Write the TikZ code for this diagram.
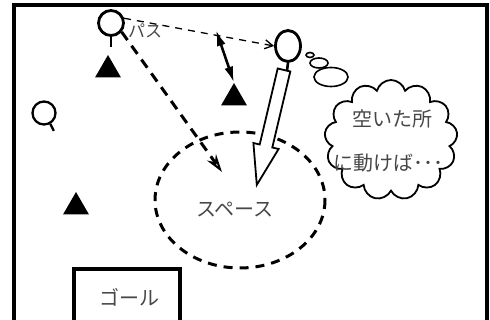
\documentclass[tikz,border=0pt]{standalone}
\usepackage{fontspec}
\newfontfamily\jp{Noto Sans CJK JP}
\usetikzlibrary{shapes.symbols,shapes.geometric,arrows.meta,calc}
\begin{document}
\begin{tikzpicture}[x=1pt,y=-1pt,
  frameline/.style={line width=3.4pt},
  player/.style={circle,draw,line width=2.8pt,minimum size=25pt,inner sep=0pt},
  playeroval/.style={ellipse,draw,line width=2.8pt,minimum width=25pt,minimum height=31pt,inner sep=0pt},
  qplayer/.style={circle,draw,line width=2.3pt,minimum size=23pt,inner sep=0pt},
  stem/.style={line width=2.6pt},
  enemy/.style={regular polygon,regular polygon sides=3,fill=black,minimum size=30pt,inner sep=0pt},
  jptext/.style={text=black!72,inner sep=0pt},
  passline/.style={line width=1.3pt,dash pattern=on 7pt off 6pt,-{Straight Barb[length=8pt,width=9pt,line width=1.3pt]}},
  runline/.style={line width=3pt,dash pattern=on 10pt off 7pt,-{Stealth[length=18pt,width=11pt,open,line width=2pt]}},
  dblarrow/.style={line width=2.6pt,{Latex[length=16pt,width=9pt]}-{Latex[length=16pt,width=9pt]}},
  bubble/.style={ellipse,draw,line width=1.6pt,inner sep=0pt},
  spacezone/.style={line width=3pt,dash pattern=on 9pt off 7pt},
  hollow/.style={line width=1.8pt,fill=white,line join=miter}
]
\useasboundingbox (0,0) rectangle (490,320);
% field frame
\draw[frameline] (14,322) -- (14,5) -- (487,5) -- (487,322);
% goal
\draw[frameline] (74,322) -- (74,269) -- (180,269) -- (180,322);
\node[jptext,font=\jp\fontsize{20}{24}\selectfont] (goal) at (129,297) {ゴール};
% space zone
\draw[spacezone] (240,200) ellipse [x radius=85, y radius=68];
\node[jptext,font=\jp\fontsize{20}{24}\selectfont] (space) at (235,210) {スペース};
% players
\node[player] (p1) at (111,23) {};
\draw[stem] (p1.south) -- ++(0,10);
\node[playeroval] (p2) at (288,46) {};
\draw[stem] (p2.south) -- ++(-1,8) coordinate (p2foot);
\node[qplayer] (q) at (44,113) {};
\draw[stem,line width=2.3pt] (q.-60) -- ++(3.5,7);
% enemies
\node[enemy] (t1) at (108,70) {};
\node[enemy] (t2) at (234,98) {};
\node[enemy] (t3) at (76,207) {};
% pass
\draw[passline] (p1.20) -- (p2.west);
\node[jptext,font=\jp\fontsize{17}{20}\selectfont] (pass) at (145,31) {パス};
% run of the first player
\coordinate (runend) at (222,172);
\draw[runline] (p1.-40) -- (runend);
% double arrow
\coordinate (dtop) at (216,30);
\draw[dblarrow] (dtop) -- (t2.north);
% hollow arrow of the second player
\draw[hollow] (277.7,68.5) -- (259.7,144.5) -- (253.4,143) -- (256.8,184.9) -- (278.6,149) -- (272.3,147.5) -- (290.3,71.5) -- cycle;
% thought bubbles
\node[bubble,minimum width=8pt,minimum height=5pt] (b1) at (310,55) {};
\node[bubble,minimum width=18pt,minimum height=10pt] (b2) at (319,63) {};
\node[bubble,minimum width=34pt,minimum height=19pt] (b3) at (331,77) {};
\node[cloud,draw,line width=1.8pt,cloud puffs=13,aspect=1.1,minimum width=133pt,minimum height=120pt,fill=white] (cloud) at (391,140) {};
\node[jptext,font=\jp\fontsize{20}{24}\selectfont] (think1) at (392,119) {空いた所};
\node[jptext,font=\jp\fontsize{20}{24}\selectfont] (think2) at (388,163) {に動けば･･･};
\end{tikzpicture}
\end{document}
